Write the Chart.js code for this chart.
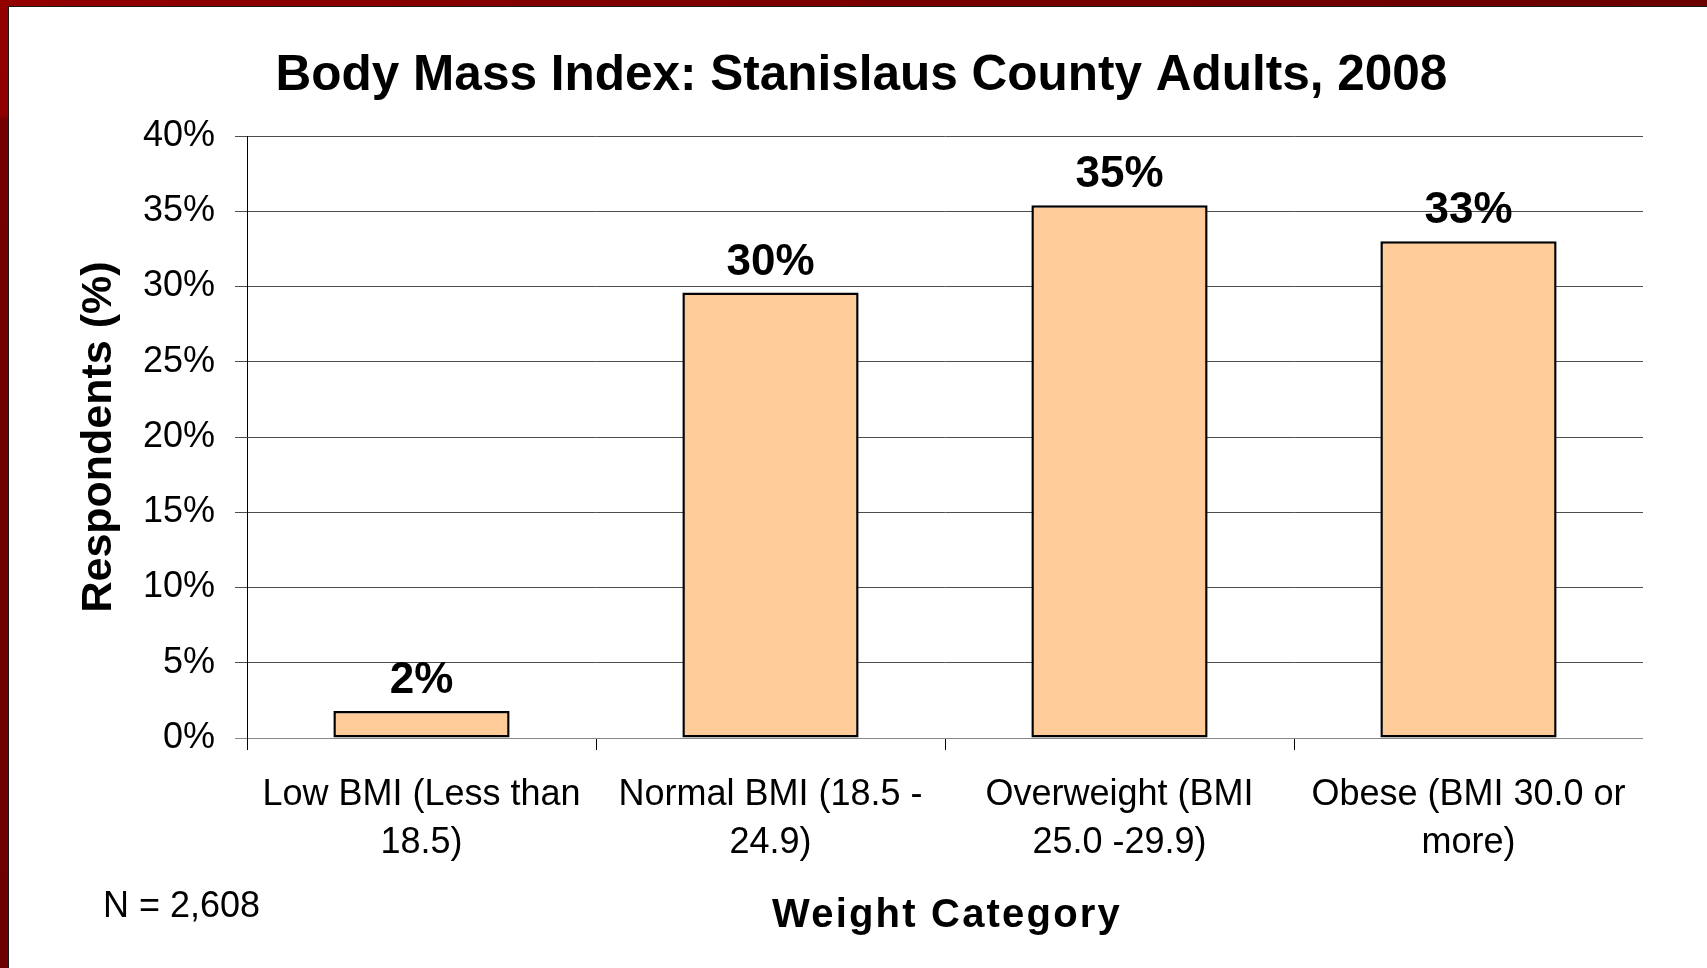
<!DOCTYPE html>
<html>
<head>
<meta charset="utf-8">
<script src="https://cdn.jsdelivr.net/npm/chart.js@4.4.0/dist/chart.umd.min.js"></script>
<style>
  html, body { margin: 0; padding: 0; background: #ffffff; width: 1707px; height: 968px; overflow: hidden; }
  #c { position: absolute; left: 0; top: 0; }
  .bt { position: absolute; left: 0; top: 0; width: 1707px; height: 6px; background: linear-gradient(to right, #930000, #7a0000 50%, #6a0000); z-index: 2; }
  .bl { position: absolute; left: 0; top: 0; width: 8px; height: 968px; background: linear-gradient(to bottom, #930000 0px, #900000 115px, #740000 120px, #6c0000); z-index: 2; }
  .lt { position: absolute; left: 8px; top: 6px; width: 1699px; height: 1px; background: #1a1a1a; z-index: 3; }
  .ll { position: absolute; left: 8px; top: 6px; width: 1px; height: 962px; background: #1a1a1a; z-index: 3; }
</style>
</head>
<body>
<div class="bt"></div><div class="bl"></div><div class="lt"></div><div class="ll"></div>
<canvas id="c" width="1643" height="968"></canvas>
<script>
// ---- data ----
const categories = [
  ["Low BMI (Less than", "18.5)"],
  ["Normal BMI (18.5 -", "24.9)"],
  ["Overweight (BMI", "25.0 -29.9)"],
  ["Obese (BMI 30.0 or", "more)"]
];
const percentValues = [1.8, 29.6, 35.4, 33.0];
const yTickValues = [0, 5, 10, 15, 20, 25, 30, 35, 40];
const chartTitle = "Body Mass Index: Stanislaus County Adults, 2008";
const xAxisTitle = "Weight Category";
const yAxisTitle = "Respondents (%)";
const sampleNote = "N = 2,608";

const FONT = "'Liberation Sans', Arial, Helvetica, sans-serif";

const extraText = {
  id: 'extraText',
  afterDatasetsDraw(chart) {
    const ctx = chart.ctx;
    const meta = chart.getDatasetMeta(0);
    ctx.save();
    ctx.font = "bold 44px " + FONT;
    ctx.fillStyle = "#000";
    ctx.textAlign = "center";
    ctx.textBaseline = "alphabetic";
    meta.data.forEach((bar, i) => {
      ctx.fillText(Math.round(percentValues[i]) + "%", bar.x, bar.y - 18);
    });
    ctx.restore();
  },
  afterDraw(chart) {
    const ctx = chart.ctx;
    const area = chart.chartArea;
    ctx.save();
    ctx.font = "36px " + FONT;
    ctx.fillStyle = "#000";
    ctx.textAlign = "left";
    ctx.textBaseline = "alphabetic";
    ctx.fillText(sampleNote, 103, 917);
    // x-axis title, slightly letter-spaced like the original
    ctx.font = "bold 40px " + FONT;
    if ('letterSpacing' in ctx) ctx.letterSpacing = "2.2px";
    ctx.textAlign = "center";
    ctx.fillText(xAxisTitle, (area.left + area.right) / 2 + 2, 927);
    ctx.restore();
  }
};

new Chart(document.getElementById('c'), {
  type: 'bar',
  data: {
    labels: categories,
    datasets: [{
      data: percentValues,
      backgroundColor: '#FFCC99',
      borderColor: '#000000',
      borderWidth: 2.5,
      borderSkipped: false,
      barPercentage: 0.505,
      categoryPercentage: 1.0
    }]
  },
  options: {
    responsive: false,
    animation: false,
    devicePixelRatio: 1,
    layout: { padding: { left: 80, right: 0, top: 0, bottom: 0 } },
    plugins: {
      legend: { display: false },
      tooltip: { enabled: false },
      title: {
        display: true,
        text: chartTitle,
        color: '#000',
        fullSize: true,
        font: { family: FONT, size: 49.5, weight: 'bold', lineHeight: 1.2 },
        padding: { top: 47, bottom: 29.6 }
      }
    },
    scales: {
      x: {
        grid: {
          offset: true,
          drawOnChartArea: false,
          drawTicks: true,
          tickLength: 12,
          tickColor: '#000',
          color: '#000'
        },
        border: { display: true, color: '#888888', width: 1 },
        ticks: {
          color: '#000',
          padding: 21.6,
          maxRotation: 0,
          autoSkip: false,
          font: { family: FONT, size: 36, lineHeight: 1.325 }
        },
        title: { display: false },
        afterFit(scale) {
          scale.height = 230;
          scale.paddingLeft = 0;
          scale.paddingRight = 0;
        }
      },
      y: {
        min: 0,
        max: 40,
        afterBuildTicks(scale) { scale.ticks = yTickValues.map(v => ({ value: v })); },
        grid: {
          drawTicks: true,
          tickLength: 12,
          lineWidth: 1,
          color: (ctx) => (ctx.tick && ctx.tick.value === 0) ? '#888888' : '#4d4d4d'
        },
        border: { display: true, color: '#000', width: 1 },
        ticks: {
          color: '#000',
          padding: 20,
          font: { family: FONT, size: 36 },
          callback: (v) => v + '%'
        },
        title: {
          display: true,
          text: yAxisTitle,
          color: '#000',
          font: { family: FONT, size: 43, weight: 'bold', lineHeight: 0.8 },
          padding: { top: 1.5, bottom: 0 }
        },
        afterFit(scale) { scale.width = 167; }
      }
    }
  },
  plugins: [extraText]
});
</script>
</body>
</html>
